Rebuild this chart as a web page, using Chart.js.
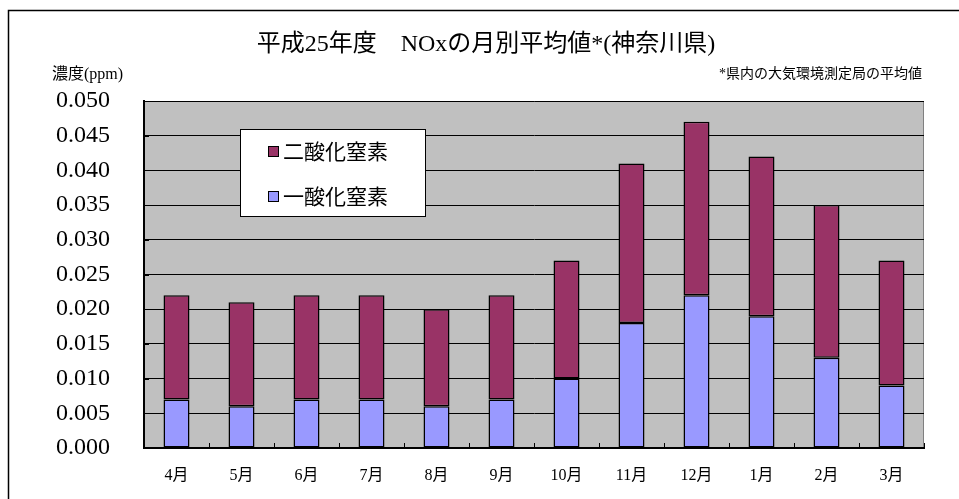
<!DOCTYPE html>
<html lang="ja">
<head>
<meta charset="utf-8">
<script src="https://cdn.jsdelivr.net/npm/chart.js@4"></script>
<style>
  html, body { margin: 0; padding: 0; background: #fff; }
  #wrap { width: 959px; height: 499px; position: relative; }
</style>
</head>
<body>
<div id="wrap"><canvas id="chart"></canvas></div>
<script>
// 月別平均値 (ppm)
const months = ['4月', '5月', '6月', '7月', '8月', '9月', '10月', '11月', '12月', '1月', '2月', '3月'];
const no = [0.007, 0.006, 0.007, 0.007, 0.006, 0.007, 0.010, 0.018, 0.022, 0.019, 0.013, 0.009];
const no2 = [0.015, 0.015, 0.015, 0.015, 0.014, 0.015, 0.017, 0.023, 0.025, 0.023, 0.022, 0.018];

const titleText = '平成25年度　NOxの月別平均値*(神奈川県)';
const unitText = '濃度(ppm)';
const noteText = '*県内の大気環境測定局の平均値';

const FONT = '"Liberation Serif", "Noto Sans CJK JP", serif';

const decor = {
    id: 'decor',
    beforeDraw(chart) {
        const ctx = chart.ctx;
        const a = chart.chartArea;
        ctx.save();
        ctx.fillStyle = '#fff';
        ctx.fillRect(0, 0, chart.width, chart.height);
        // outer frame
        ctx.strokeStyle = '#000';
        ctx.lineWidth = 1.5;
        ctx.strokeRect(8.5, 10.5, 980, 520);
        // plot area
        ctx.fillStyle = '#c0c0c0';
        ctx.fillRect(a.left, a.top, a.right - a.left, a.bottom - a.top);
        ctx.strokeStyle = '#808080';
        ctx.lineWidth = 1;
        ctx.strokeRect(a.left + 0.5, a.top + 0.5, a.right - a.left - 1, a.bottom - a.top);
        ctx.restore();
    },
    afterDraw(chart) {
        const ctx = chart.ctx;
        const a = chart.chartArea;
        const x = chart.scales.x;
        const y = chart.scales.y;
        ctx.save();
        ctx.fillStyle = '#000';
        ctx.textBaseline = 'middle';

        ctx.font = '24px ' + FONT;
        ctx.textAlign = 'center';
        ctx.fillText(titleText, 486, 45);

        ctx.font = '16px ' + FONT;
        ctx.textAlign = 'left';
        ctx.fillText(unitText, 52, 75);

        ctx.font = '14px ' + FONT;
        ctx.textAlign = 'right';
        ctx.fillText(noteText, 922, 74);

        // inner tick marks
        ctx.strokeStyle = '#000';
        ctx.lineWidth = 1;
        ctx.beginPath();
        for (let i = 1; i <= months.length; i++) {
            const px = i === months.length ? a.right : (x.getPixelForValue(i) + x.getPixelForValue(i - 1)) / 2;
            ctx.moveTo(Math.round(px) + 0.5, a.bottom);
            ctx.lineTo(Math.round(px) + 0.5, a.bottom - 5);
        }
        y.ticks.forEach(t => {
            const py = Math.round(y.getPixelForValue(t.value)) + 0.5;
            ctx.moveTo(a.left, py);
            ctx.lineTo(a.left + 5, py);
        });
        ctx.stroke();

        // legend
        const lx = 240, ly = 129, lw = 185, lh = 87;
        ctx.fillStyle = '#fff';
        ctx.fillRect(lx, ly, lw, lh);
        ctx.strokeStyle = '#000';
        ctx.strokeRect(lx + 0.5, ly + 0.5, lw, lh);
        const items = [chart.data.datasets[1], chart.data.datasets[0]];
        ctx.font = '21px "Noto Sans CJK JP", sans-serif';
        ctx.textAlign = 'left';
        items.forEach((ds, i) => {
            const cy = 151 + i * 45;
            ctx.fillStyle = ds.backgroundColor;
            ctx.fillRect(268, cy - 5, 10, 10);
            ctx.strokeStyle = '#000';
            ctx.strokeRect(268.5, cy - 4.5, 10, 10);
            ctx.fillStyle = '#000';
            ctx.fillText(ds.label, 283, cy);
        });
        ctx.restore();
    }
};

new Chart(document.getElementById('chart'), {
    type: 'bar',
    data: {
        labels: months,
        datasets: [
            {
                label: '一酸化窒素',
                data: no,
                backgroundColor: '#9999ff',
                borderColor: '#000',
                borderWidth: 1.5,
                borderSkipped: false,
                barPercentage: 0.4,
                categoryPercentage: 1
            },
            {
                label: '二酸化窒素',
                data: no2,
                backgroundColor: '#993366',
                borderColor: '#000',
                borderWidth: 1.5,
                borderSkipped: false,
                barPercentage: 0.4,
                categoryPercentage: 1
            }
        ]
    },
    options: {
        responsive: true,
        maintainAspectRatio: false,
        animation: false,
        layout: { padding: { left: 0, top: 101, right: 35, bottom: 0 } },
        plugins: {
            legend: { display: false },
            title: { display: false },
            tooltip: { enabled: false }
        },
        scales: {
            x: {
                stacked: true,
                offset: true,
                grid: { display: false },
                border: { display: true, color: '#000', width: 2 },
                ticks: { color: '#000', padding: 10, font: { family: FONT, size: 16 } },
                afterFit: s => { s.height = 51; }
            },
            y: {
                stacked: true,
                min: 0,
                max: 0.05,
                grid: { color: '#000', lineWidth: 1, drawTicks: false },
                border: { display: true, color: '#000', width: 2 },
                ticks: {
                    stepSize: 0.005,
                    color: '#000',
                    padding: 34,
                    font: { family: FONT, size: 24 },
                    callback: v => v.toFixed(3)
                },
                afterFit: s => { s.width = 144; }
            }
        }
    },
    plugins: [decor]
});
</script>
</body>
</html>
